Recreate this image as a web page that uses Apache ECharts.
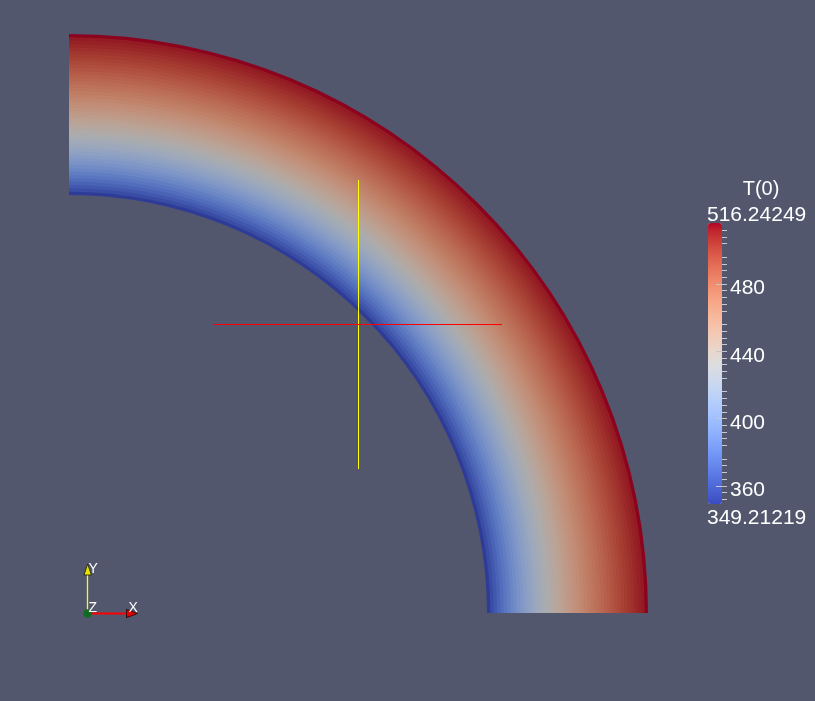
<!DOCTYPE html>
<html>
<head>
<meta charset="utf-8">
<script src="https://cdn.jsdelivr.net/npm/echarts@6/dist/echarts.min.js"></script>
<style>
html, body { margin: 0; padding: 0; background: #52576e; }
#chart { width: 815px; height: 701px; }
</style>
</head>
<body>
<div id="chart"></div>
<script>
// ---- data ----
const fieldName = 'T(0)';
const rangeMin = 349.21219;
const rangeMax = 516.24249;
const rangeLabels = ['516.24249', '349.21219'];
const majorTicks = [360, 400, 440, 480];
const minorTicks = [352, 356, 364, 368, 372, 376, 384, 388, 392, 396, 404, 408, 412, 416,
  424, 428, 432, 436, 444, 448, 452, 456, 464, 468, 472, 476, 484, 488, 492, 496, 504, 508, 512];
// radial band edges (inner radius = 1)
const bandEdges = [1.0000, 1.0080, 1.0160, 1.0241, 1.0321, 1.0401, 1.0481, 1.0561, 1.0642, 1.0722,
  1.0802, 1.0882, 1.0962, 1.1043, 1.1123, 1.1203, 1.1283, 1.1364, 1.1444, 1.1524,
  1.1604, 1.1684, 1.1765, 1.1845, 1.1925, 1.2005, 1.2085, 1.2166, 1.2246, 1.2326,
  1.2406, 1.2486, 1.2567, 1.2647, 1.2727, 1.2807, 1.2888, 1.2968, 1.3048, 1.3128,
  1.3208, 1.3289, 1.3369, 1.3449, 1.3529, 1.3609, 1.3690, 1.3770, 1.3850];
// temperature of each radial band (inner -> outer)
const bandTemps = [349.9, 357.9, 363.5, 368.9, 374.1, 379.1, 384.1, 388.8, 393.5, 398.0,
  402.4, 406.7, 410.8, 414.9, 418.9, 422.8, 426.6, 430.3, 433.9, 437.5,
  441.0, 444.4, 447.8, 451.0, 454.3, 457.4, 460.5, 463.6, 466.6, 469.5,
  472.4, 475.2, 478.0, 480.8, 483.5, 486.1, 488.7, 491.3, 493.9, 496.4,
  498.8, 501.2, 503.7, 506.0, 508.2, 510.2, 512.0, 516.2];

// ---- style ----
const coolWarm = [
  [59,76,192],[68,90,204],[77,104,215],[87,117,225],[98,130,234],[108,142,241],[119,154,247],
  [130,165,251],[141,176,254],[152,185,255],[163,194,255],[174,201,253],[184,208,249],
  [194,213,244],[204,217,238],[213,219,230],[221,221,221],[229,216,209],[236,211,197],
  [241,204,185],[245,196,173],[247,187,160],[247,177,148],[247,166,135],[244,154,123],
  [241,141,111],[236,127,99],[229,112,88],[222,96,77],[213,80,66],[203,62,56],[192,40,47],[180,4,38]
];
const shade = 0.78;
const toRgb = (c, k) => 'rgb(' + c.map(v => Math.round(v * k)).join(',') + ')';
const barColors = coolWarm.map(c => toRgb(c, 1));
const fillColors = coolWarm.map(c => toRgb(c, shade));
const FONT = 'Liberation Sans, Arial, sans-serif';

const bandData = bandTemps.map((t, i) => [bandEdges[i], bandEdges[i + 1], t]);
const nBands = bandData.length;

const chart = echarts.init(document.getElementById('chart'), null, { renderer: 'canvas' });

const baseY = {
  type: 'value', position: 'right', min: rangeMin, max: rangeMax, z: 10,
  axisLine: { show: false }, splitLine: { show: false }
};

const option = {
  backgroundColor: '#52576e',
  animation: false,
  polar: { center: [69, 613], radius: [418, 579] },
  angleAxis: { type: 'value', min: 0, max: 360, startAngle: 90, show: false },
  radiusAxis: { type: 'value', min: bandEdges[0], max: bandEdges[bandEdges.length - 1], show: false },
  grid: [
    { left: 708, top: 223, width: 14, height: 281, show: false, z: 10 },
    { left: 708, top: 227.5, width: 14, height: 281, show: false, z: 10 }
  ],
  xAxis: [
    { type: 'value', gridIndex: 0, show: false, min: 0, max: 1 },
    { type: 'value', gridIndex: 1, show: false, min: 0, max: 1 }
  ],
  yAxis: [
    Object.assign({}, baseY, { gridIndex: 0, position: 'left', show: false }),
    Object.assign({}, baseY, {
      gridIndex: 0,
      axisTick: { show: true, inside: false, length: 5, customValues: minorTicks,
        lineStyle: { color: '#c8cad2', width: 1 } },
      axisLabel: { show: false }
    }),
    Object.assign({}, baseY, {
      gridIndex: 0,
      offset: 5,
      axisTick: { show: true, inside: true, length: 11, customValues: majorTicks,
        lineStyle: { color: '#c4c6cc', width: 1 } },
      axisLabel: { show: false }
    }),
    Object.assign({}, baseY, {
      gridIndex: 1,
      axisTick: { show: false },
      axisLabel: { show: true, customValues: majorTicks, margin: 8, color: '#ffffff',
        fontSize: 21, fontFamily: FONT }
    })
  ],
  visualMap: [
    {
      type: 'continuous', show: false, seriesIndex: 0, dimension: 2,
      min: rangeMin, max: rangeMax, inRange: { color: fillColors }
    },
    {
      type: 'continuous', show: true, seriesIndex: [], min: rangeMin, max: rangeMax,
      left: 708, top: 223, itemWidth: 14, itemHeight: 281, padding: 0, z: 2,
      calculable: false, hoverLink: false, inRange: { color: barColors }
    }
  ],
  series: [
    {
      type: 'custom',
      coordinateSystem: 'polar',
      data: bandData,
      dimensions: ['r0', 'r1', 'T'],
      encode: { radius: 0 },
      silent: true,
      renderItem: function (params, api) {
        const cs = params.coordSys;
        const pIn = api.coord([api.value(0), 0]);
        const pOut = api.coord([api.value(1), 90]);
        const r0 = Math.hypot(pIn[0] - cs.cx, pIn[1] - cs.cy);
        const r = Math.hypot(pOut[0] - cs.cx, pOut[1] - cs.cy);
        const a0 = Math.atan2(pIn[1] - cs.cy, pIn[0] - cs.cx);
        const a1 = Math.atan2(pOut[1] - cs.cy, pOut[0] - cs.cx);
        const extra = params.dataIndex < nBands - 1 ? 0.8 : 0;
        return {
          type: 'sector',
          shape: { cx: cs.cx, cy: cs.cy, r0: r0, r: r + extra, startAngle: a0, endAngle: a1, clockwise: true },
          style: { fill: api.visual('color') }
        };
      }
    }
  ],
  graphic: [
    // colour legend texts
    { type: 'text', x: 761, y: 189, style: { text: fieldName, fill: '#ffffff', font: '20px ' + FONT, textAlign: 'center', textVerticalAlign: 'middle' } },
    { type: 'text', x: 707, y: 215.5, style: { text: rangeLabels[0], fill: '#ffffff', font: '21px ' + FONT, textAlign: 'left', textVerticalAlign: 'middle' } },
    { type: 'text', x: 707, y: 518, style: { text: rangeLabels[1], fill: '#ffffff', font: '21px ' + FONT, textAlign: 'left', textVerticalAlign: 'middle' } },
    // center-of-rotation cross
    { type: 'line', shape: { x1: 358.5, y1: 180, x2: 358.5, y2: 469 }, style: { stroke: '#ffff00', lineWidth: 1 }, z: 100 },
    { type: 'line', shape: { x1: 213, y1: 324.5, x2: 502, y2: 324.5 }, style: { stroke: '#ff0000', lineWidth: 1 }, z: 101 },
    // orientation triad
    { type: 'line', shape: { x1: 87.5, y1: 613, x2: 87.5, y2: 572 }, style: { stroke: '#ffff00', lineWidth: 1.3 }, z: 100 },
    { type: 'polygon', shape: { points: [[84, 575], [91.4, 575], [87.7, 564]] }, style: { fill: '#e8e600', stroke: '#1a1a00', lineWidth: 0.8 }, z: 101 },
    { type: 'line', shape: { x1: 88, y1: 613.5, x2: 128, y2: 613.5 }, style: { stroke: '#ff0000', lineWidth: 2 }, z: 100 },
    { type: 'polygon', shape: { points: [[126.5, 609.3], [126.5, 617.7], [137.5, 613.5]] }, style: { fill: '#e00000', stroke: '#200000', lineWidth: 0.8 }, z: 101 },
    { type: 'circle', shape: { cx: 87.5, cy: 613.5, r: 4.2 }, style: { fill: '#0f6b1f' }, z: 102 },
    { type: 'text', x: 88.5, y: 569.5, style: { text: 'Y', fill: '#ffffff', font: '14px ' + FONT, textAlign: 'left', textVerticalAlign: 'middle' }, z: 103 },
    { type: 'text', x: 88.5, y: 608, style: { text: 'Z', fill: '#ffffff', font: '14px ' + FONT, textAlign: 'left', textVerticalAlign: 'middle' }, z: 103 },
    { type: 'text', x: 128.5, y: 608, style: { text: 'X', fill: '#ffffff', font: '14px ' + FONT, textAlign: 'left', textVerticalAlign: 'middle' }, z: 103 }
  ]
};

chart.setOption(option);
</script>
</body>
</html>
